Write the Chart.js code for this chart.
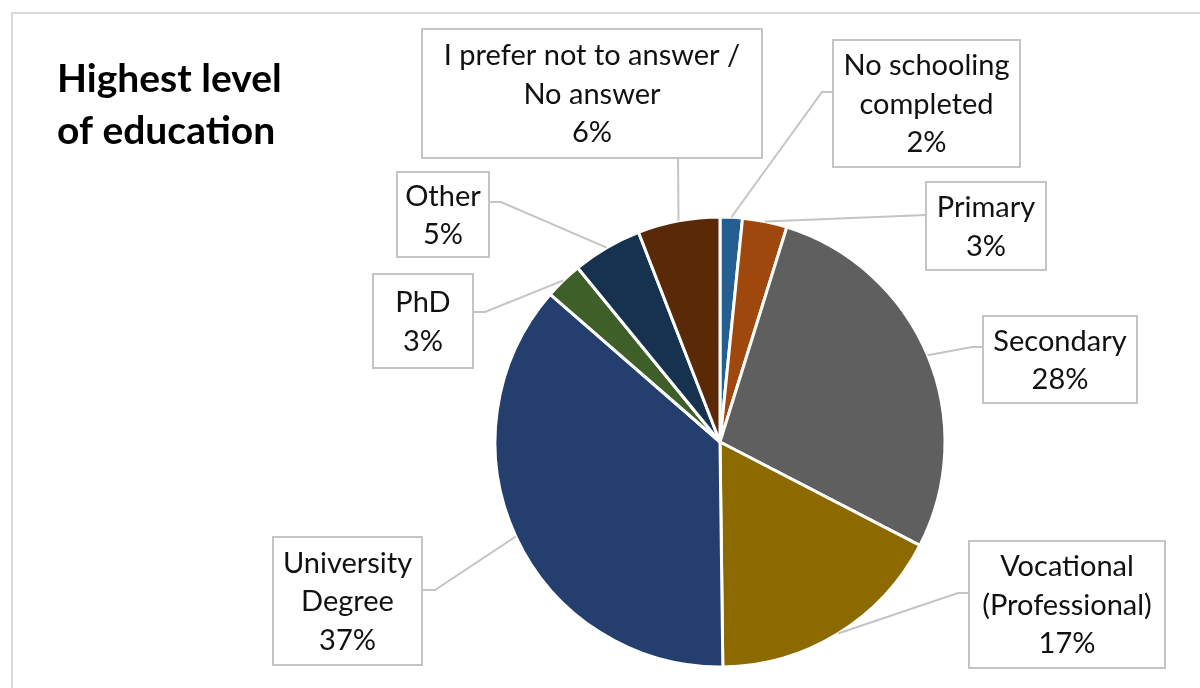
<!DOCTYPE html>
<html>
<head>
<meta charset="utf-8">
<script src="https://cdn.jsdelivr.net/npm/chart.js@4.4.1/dist/chart.umd.min.js"></script>
<style>
  html, body { margin: 0; padding: 0; background: #fff; }
  #wrap { width: 1200px; height: 688px; }
</style>
</head>
<body>
<div id="wrap"><canvas id="chart" width="1200" height="688"></canvas></div>
<script>
const categories = [
    ['No schooling', 'completed'],
    ['Primary'],
    ['Secondary'],
    ['Vocational', '(Professional)'],
    ['University', 'Degree'],
    ['PhD'],
    ['Other'],
    ['I prefer not to answer /', 'No answer']
]
const shares = [1.6, 3.2, 27.8, 17.2, 36.6, 2.7, 5.0, 5.9]
const sliceColors = ['#255e91', '#9e480e', '#5f5f5f', '#8c6a00', '#243f6e', '#3f5f28', '#17324f', '#5a2908']
const titleLines = ['Highest level', 'of education']

// where each callout box sits, plus the start and elbow of its leader line
const calloutBoxes = [
    {x: 833, y: 40,  w: 187, h: 127, sx: 833, sy: 92,  ex: 822, ey: 92},
    {x: 926, y: 182, w: 120, h: 88,  sx: 926, sy: 215, ex: 926, ey: 215},
    {x: 983, y: 316, w: 154, h: 87,  sx: 983, sy: 347, ex: 972, ey: 347},
    {x: 969, y: 541, w: 196, h: 127, sx: 969, sy: 593, ex: 958, ey: 593},
    {x: 273, y: 537, w: 149, h: 128, sx: 422, sy: 590, ex: 435, ey: 590},
    {x: 373, y: 274, w: 100, h: 94,  sx: 473, sy: 312, ex: 485, ey: 312},
    {x: 397, y: 172, w: 92,  h: 85,  sx: 489, sy: 202, ex: 501, ey: 202},
    {x: 422, y: 29,  w: 340, h: 129, sx: 678, sy: 158, ex: 678, ey: 158}
]

const LABEL_FONT = '29px Lato'
const LINE_H = 38.5
const GRID = '#c4c4c4'

const total = shares.reduce((a, b) => a + b, 0)

const frameAndTitle = {
    id: 'frameAndTitle',
    beforeDraw(chart) {
        const ctx = chart.ctx
        ctx.save()
        ctx.fillStyle = '#fff'
        ctx.fillRect(0, 0, chart.width, chart.height)
        ctx.strokeStyle = '#d9d9d9'
        ctx.lineWidth = 2
        ctx.strokeRect(12, 13, chart.width + 20, chart.height + 20)
        ctx.fillStyle = '#000'
        ctx.font = 'bold 39px Lato'
        ctx.textBaseline = 'alphabetic'
        ctx.textAlign = 'left'
        ctx.fillText(titleLines[0], 57, 92)
        ctx.fillText(titleLines[1], 57, 144)
        ctx.restore()
    }
}

const callouts = {
    id: 'callouts',
    afterDatasetsDraw(chart) {
        const ctx = chart.ctx
        const arcs = chart.getDatasetMeta(0).data
        ctx.save()
        arcs.forEach((arc, i) => {
            const b = calloutBoxes[i]
            const {x, y, startAngle, endAngle, outerRadius} = arc.getProps(['x', 'y', 'startAngle', 'endAngle', 'outerRadius'], true)
            const mid = (startAngle + endAngle) / 2
            const px = x + Math.cos(mid) * outerRadius
            const py = y + Math.sin(mid) * outerRadius

            ctx.strokeStyle = GRID
            ctx.lineWidth = 2
            ctx.beginPath()
            ctx.moveTo(b.sx, b.sy)
            ctx.lineTo(b.ex, b.ey)
            ctx.lineTo(px, py)
            ctx.stroke()

            ctx.fillStyle = '#fff'
            ctx.fillRect(b.x, b.y, b.w, b.h)
            ctx.strokeRect(b.x, b.y, b.w, b.h)

            const lines = [...categories[i], Math.round(shares[i] / total * 100) + '%']
            ctx.fillStyle = '#111'
            ctx.font = LABEL_FONT
            ctx.textAlign = 'center'
            ctx.textBaseline = 'middle'
            const cy = b.y + b.h / 2 + 1 - (lines.length - 1) * LINE_H / 2
            lines.forEach((t, k) => ctx.fillText(t, b.x + b.w / 2, cy + k * LINE_H))
        })
        ctx.restore()
    }
}

new Chart(document.getElementById('chart'), {
    type: 'pie',
    data: {
        labels: categories,
        datasets: [{
            data: shares,
            backgroundColor: sliceColors,
            borderColor: '#ffffff',
            borderWidth: 3,
            hoverOffset: 0
        }]
    },
    options: {
        responsive: false,
        animation: false,
        radius: 225,
        layout: {padding: {left: 495, right: 255, top: 217, bottom: 21}},
        plugins: {
            legend: {display: false},
            tooltip: {enabled: false}
        }
    },
    plugins: [frameAndTitle, callouts]
})
</script>
</body>
</html>
